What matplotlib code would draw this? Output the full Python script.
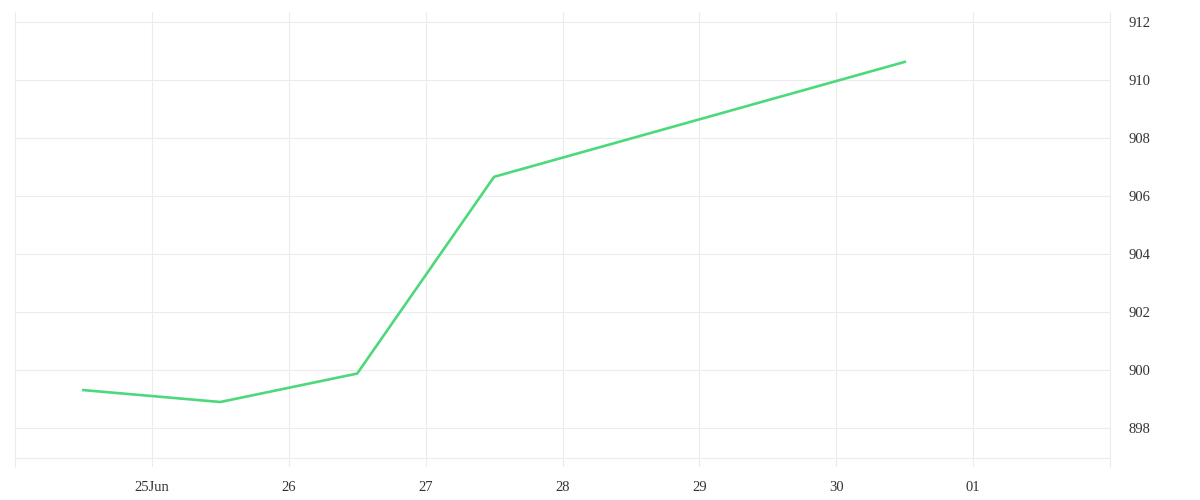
import matplotlib
matplotlib.use("Agg")
import matplotlib.pyplot as plt
from datetime import datetime

# Daily points (noon of each day)
dates = [
    datetime(2023, 6, 24, 12),
    datetime(2023, 6, 25, 12),
    datetime(2023, 6, 26, 12),
    datetime(2023, 6, 27, 12),
    datetime(2023, 6, 30, 12),
]
values = [899.31, 898.90, 899.88, 906.66, 910.62]

tick_dates = [datetime(2023, 6, d) for d in range(25, 31)] + [datetime(2023, 7, 1)]
tick_labels = ["25Jun", "26", "27", "28", "29", "30", "01"]
y_ticks = [898, 900, 902, 904, 906, 908, 910, 912]

LINE_COLOR = "#4cd97b"
GRID_COLOR = "#ececec"
TEXT_COLOR = "#333333"

fig = plt.figure(figsize=(12, 5), dpi=100)
ax = fig.add_axes([15 / 1200, 1 - 467 / 500, (1110 - 15) / 1200, (467 - 12) / 500])

ax.plot(dates, values, color=LINE_COLOR, linewidth=1.9, solid_joinstyle="round")

ax.set_xlim(datetime(2023, 6, 24), datetime(2023, 7, 2))
ax.set_ylim(896.66, 912.34)

ax.set_xticks(tick_dates)
ax.set_xticklabels(tick_labels)
ax.set_yticks(y_ticks)
ax.set_yticklabels([str(v) for v in y_ticks])
ax.yaxis.tick_right()

ax.tick_params(axis="both", length=0, labelsize=10.5, labelcolor=TEXT_COLOR)
ax.tick_params(axis="x", pad=10)
ax.tick_params(axis="y", pad=13)
for lbl in ax.get_xticklabels() + ax.get_yticklabels():
    lbl.set_family("Liberation Serif")
for lbl in ax.get_yticklabels():
    lbl.set_horizontalalignment("left")

ax.grid(True, color=GRID_COLOR, linewidth=0.8)
ax.set_axisbelow(True)
# bottom baseline
ax.axhline(896.97, color=GRID_COLOR, linewidth=0.8, zorder=0)

for side in ["top", "bottom"]:
    ax.spines[side].set_visible(False)
for side in ["left", "right"]:
    ax.spines[side].set_color(GRID_COLOR)
    ax.spines[side].set_linewidth(0.8)

fig.savefig("out.png", dpi=100)
